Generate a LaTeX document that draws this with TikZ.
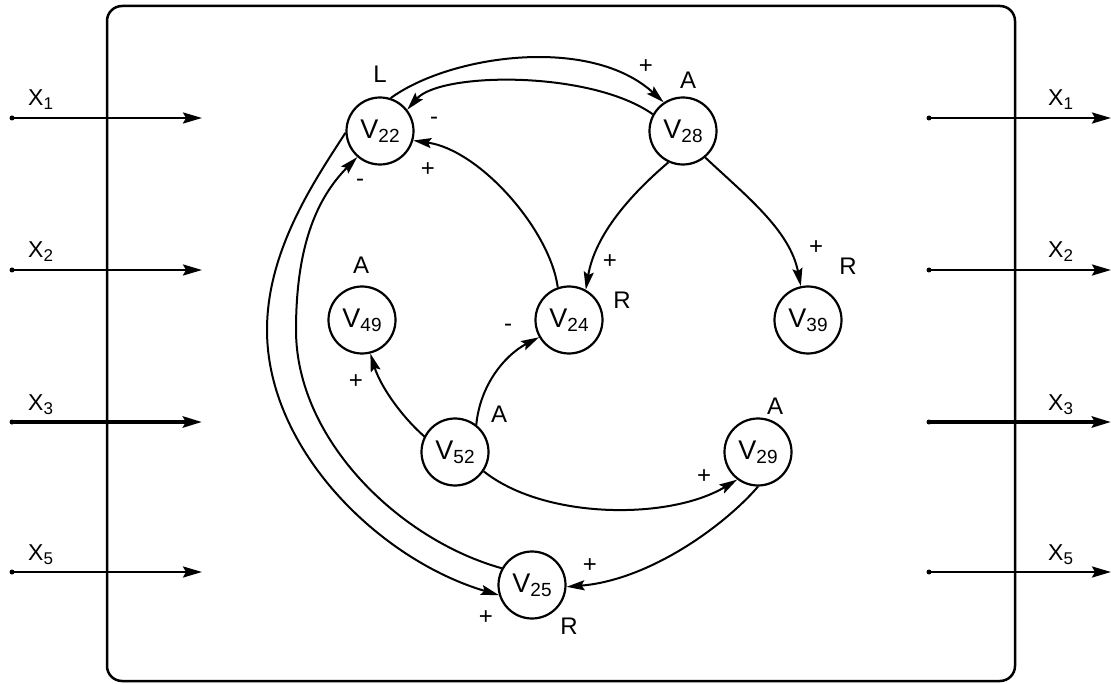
\documentclass[tikz,border=0pt]{standalone}
\usepackage{fontspec}
\setmainfont{Liberation Sans}
\usetikzlibrary{arrows.meta}
\newcommand\vsub[2]{#1\raisebox{-4pt}{\fontsize{19}{19}\selectfont #2}}
\newcommand\xsub[2]{#1\raisebox{-4pt}{\fontsize{17}{17}\selectfont #2}}
\begin{document}
\begin{tikzpicture}[x=1pt,y=-1pt,
  var/.style={circle,draw,line width=2.2pt,minimum size=67pt,inner sep=0pt,font=\fontsize{27}{27}\selectfont},
  lbl/.style={inner sep=0pt,font=\fontsize{24}{24}\selectfont},
  sgn/.style={inner sep=0pt,font=\fontsize{24}{24}\selectfont},
  xl/.style={inner sep=0pt,anchor=base west,font=\fontsize{23}{23}\selectfont},
  edge/.style={line width=2pt,-{Stealth[length=18pt,width=10pt,inset=3pt]}},
  inp/.style={line width=2.5pt,-{Stealth[length=19pt,width=11pt,inset=3pt]}},
  frame/.style={line width=2.5pt,rounded corners=15pt}]
\useasboundingbox (0,0) rectangle (1111,684);
\draw[frame] (107,6) rectangle (1015,681);
% inputs and outputs
\foreach \y/\n/\w in {118/1/2.5pt,270/2/2.5pt,422/3/4pt,572/5/2.5pt}{
  \coordinate (ls\n) at (12,\y);
  \coordinate (le\n) at (202,\y);
  \coordinate (rs\n) at (929,\y);
  \coordinate (re\n) at (1111,\y);
  \fill (ls\n) circle (2.5pt);
  \fill (rs\n) circle (2.5pt);
  \draw[inp,line width=\w] (ls\n) -- (le\n);
  \draw[inp,line width=\w] (rs\n) -- (re\n);
  \node[xl] (xl\n) at (28,\y-12) {\xsub{X}{\n}};
  \node[xl] (xr\n) at (1048,\y-12) {\xsub{X}{\n}};
}
% variables
\node[var] (v22) at (380,131) {\vsub{V}{22}};
\node[var] (v28) at (683,131) {\vsub{V}{28}};
\node[var] (v49) at (362,320) {\vsub{V}{49}};
\node[var] (v24) at (569,320) {\vsub{V}{24}};
\node[var] (v39) at (808,320) {\vsub{V}{39}};
\node[var] (v52) at (455,452) {\vsub{V}{52}};
\node[var] (v29) at (758,452) {\vsub{V}{29}};
\node[var] (v25) at (532,585) {\vsub{V}{25}};
% type labels
\node[lbl] (t22) at (380,74) {L};
\node[lbl] (t28) at (688,80) {A};
\node[lbl] (t49) at (361,265) {A};
\node[lbl] (t24) at (622,300) {R};
\node[lbl] (t39) at (848,266) {R};
\node[lbl] (t52) at (499,414) {A};
\node[lbl] (t29) at (775,406) {A};
\node[lbl] (t25) at (569,626) {R};
% edges
\draw[edge] (v22.72) .. controls (450,55) and (590,35) .. (v28.124);
\draw[edge] (v28.151) .. controls (590,70) and (440,72) .. (v22.38);
\draw[edge] (v24.109) .. controls (550,230) and (480,150) .. (v22.344);
\draw[edge] (v28.245) .. controls (630,195) and (595,235) .. (v24.61);
\draw[edge] (v28.310) .. controls (745,195) and (790,230) .. (v39.102);
\draw[edge] (v52.153) .. controls (400,415) and (380,385) .. (v49.284);
\draw[edge] (v52.52) .. controls (480,385) and (505,355) .. (v24.210);
\draw[edge] (v52.326) .. controls (545,520) and (670,520) .. (v29.233);
\draw[edge] (v29.270) .. controls (725,525) and (650,580) .. (v25.357);
\coordinate (inl) at (296,330);
\coordinate (outl) at (267,330);
\draw[edge] (v25.151) .. controls (400,540) and (296,440) .. (inl) .. controls (296,240) and (320,195) .. (v22.229);
\draw[edge] (v22.183) .. controls (315,180) and (267,250) .. (outl) .. controls (267,450) and (380,560) .. (v25.197);
% signs
\node[sgn] (s1) at (646,67) {+};
\node[sgn] (s2) at (434,121) {-};
\node[sgn] (s3) at (428,170) {+};
\node[sgn] (s4) at (360,183) {-};
\node[sgn] (s5) at (610,262) {+};
\node[sgn] (s6) at (508,328) {-};
\node[sgn] (s7) at (356,382) {+};
\node[sgn] (s8) at (816,248) {+};
\node[sgn] (s9) at (704,477) {+};
\node[sgn] (s10) at (590,566) {+};
\node[sgn] (s11) at (486,618) {+};
\end{tikzpicture}
\end{document}
